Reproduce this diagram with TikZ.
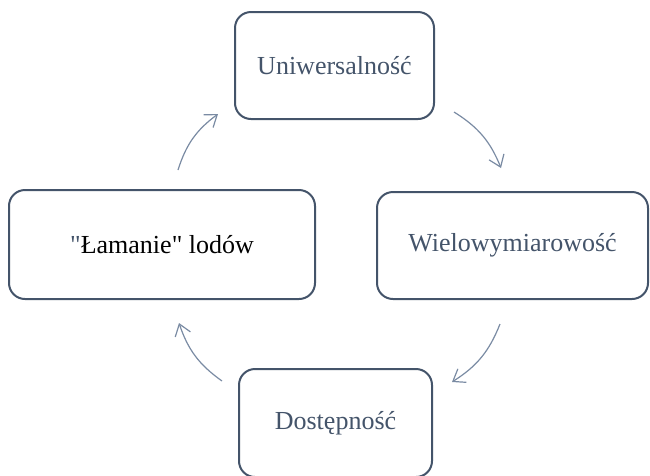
\documentclass[tikz,border=0pt]{standalone}
\usepackage{fontspec}
\setmainfont{Liberation Serif}[Ligatures=TeXOff]
\usepackage{xcolor}
\usetikzlibrary{arrows.meta}
\definecolor{slate}{HTML}{44546A}
\definecolor{lightslate}{HTML}{7A8BA3}

\begin{document}
\begin{tikzpicture}[x=1pt,y=-1pt]
  \tikzset{box/.style = {shape=rectangle,draw=slate,line width=2pt,rounded corners=16pt,inner sep=0pt,font=\fontsize{26}{30}\selectfont,text=slate}}
  \tikzset{cyc/.style = {-{Straight Barb[length=11pt,width=16pt]},draw=lightslate,line width=1.2pt}}
  \useasboundingbox (0,0) rectangle (650,475);

	\node[box,minimum width=199pt,minimum height=107pt] (U) at (334.5,65.5) {Uniwersalność};
	\node[box,minimum width=306pt,minimum height=109pt,text=black] (L) at (162,244.5) {{\color{slate}"}Łamanie" lodów};
	\node[box,minimum width=271pt,minimum height=107pt] (W) at (512.5,245.5) {Wielowymiarowość};
	\node[box,minimum width=193pt,minimum height=108pt] (D) at (335.5,423) {Dostępność};

	\coordinate (LU) at (178,170);
	\coordinate (UL) at (218,114);
	\coordinate (UW) at (454,112);
	\coordinate (WU) at (501,168);
	\coordinate (WD) at (500,324);
	\coordinate (DW) at (452,382);
	\coordinate (DL) at (222,381);
	\coordinate (LD) at (179,323);

    \foreach \from/\to in {LU/UL, UW/WU, WD/DW, DL/LD}
    \draw[cyc] (\from) to[bend left=18] (\to);

\end{tikzpicture}
\end{document}
